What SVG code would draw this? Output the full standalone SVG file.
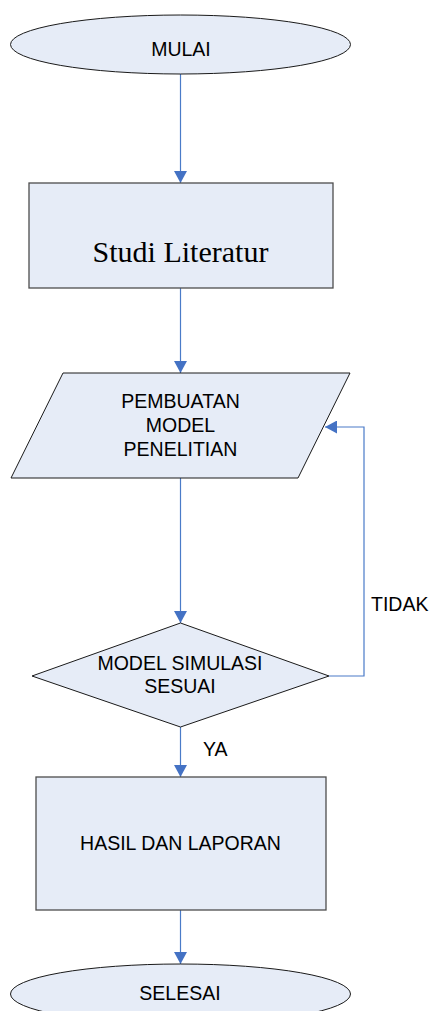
<svg xmlns="http://www.w3.org/2000/svg" width="430" height="1011" viewBox="0 0 430 1011">
<defs>
<style>
.node{fill:#E6ECF7;stroke:#1a1a1a;stroke-width:1}
.box{fill:#E6ECF7;stroke:#4d4d4d;stroke-width:1.3}
.t{font-family:"Liberation Sans",Arial,sans-serif;font-size:19.5px;fill:#000;text-anchor:middle}
.lbl{font-family:"Liberation Sans",Arial,sans-serif;font-size:19.5px;fill:#000}
.serif{font-family:"Liberation Serif","Times New Roman",serif;font-size:30px;fill:#000;text-anchor:middle}
.c{fill:none;stroke:#4A7BC8;stroke-width:1.2}
</style>
<marker id="ah" markerUnits="userSpaceOnUse" viewBox="0 0 12 13" refX="12" refY="6.5" markerWidth="12" markerHeight="13" orient="auto">
<path d="M0,0 L12,6.5 L0,13 z" fill="#4472C4"/>
</marker>
</defs>
<g id="connectors">
<line class="c" x1="180.5" y1="74" x2="180.5" y2="183" marker-end="url(#ah)"/>
<line class="c" x1="180.5" y1="288" x2="180.5" y2="373" marker-end="url(#ah)"/>
<line class="c" x1="180.5" y1="478" x2="180.5" y2="623" marker-end="url(#ah)"/>
<line class="c" x1="180.5" y1="727" x2="180.5" y2="777" marker-end="url(#ah)"/>
<line class="c" x1="180.5" y1="910" x2="180.5" y2="964" marker-end="url(#ah)"/>
<polyline class="c" points="329,676 364,676 364,427 325,427" marker-end="url(#ah)"/>
<text class="lbl" x="371" y="611">TIDAK</text>
<text class="lbl" x="203" y="756">YA</text>
</g>
<g id="mulai">
<ellipse class="node" cx="180.5" cy="44.5" rx="170" ry="29.5"/>
<text class="t" x="181" y="56">MULAI</text>
</g>
<g id="studi">
<rect class="box" x="29" y="183" width="304" height="105"/>
<text class="serif" x="180.5" y="262">Studi Literatur</text>
</g>
<g id="pembuatan">
<polygon class="node" points="63,373 350,373 298,478 11,478"/>
<text class="t" x="180.5" y="408">PEMBUATAN</text>
<text class="t" x="180.5" y="432">MODEL</text>
<text class="t" x="180.5" y="456">PENELITIAN</text>
</g>
<g id="keputusan">
<polygon class="node" points="180.5,623 329,676 180.5,727 32,676"/>
<text class="t" x="180" y="670">MODEL SIMULASI</text>
<text class="t" x="180" y="693">SESUAI</text>
</g>
<g id="hasil">
<rect class="box" x="36" y="777" width="290" height="133"/>
<text class="t" x="180.5" y="850">HASIL DAN LAPORAN</text>
</g>
<g id="selesai">
<ellipse class="node" cx="180.5" cy="994" rx="170" ry="30"/>
<text class="t" x="180" y="1000">SELESAI</text>
</g>
</svg>
